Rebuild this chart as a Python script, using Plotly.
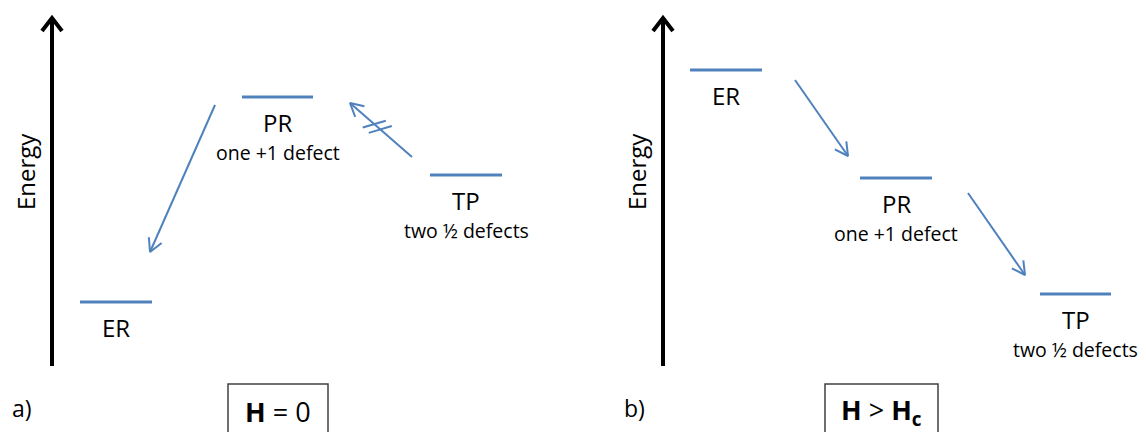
import numpy as np
import plotly.graph_objects as go

# ---- data (pixel-space diagram, y grows downward) ----
panels = ["a)", "b)"]
panel_axis_x = [52, 663]
panel_label_x = [22, 634]
field_labels = ["<b>H</b> = 0", "<b>H</b> &gt; <b>H<sub>c</sub></b>"]
field_box_x0 = [228, 825]
field_box_x1 = [328, 938]

# energy levels: state name, panel, x-start, x-end, level position
level_names = ["ER", "PR", "TP", "ER", "PR", "TP"]
level_desc = ["", "one +1 defect", "two ½ defects", "", "one +1 defect", "two ½ defects"]
level_x0 = [80, 242, 430, 690, 860, 1040]
level_x1 = [152, 313, 502, 762, 932, 1111]
level_y = [302, 97, 175, 70, 178, 294]

# transitions: start point -> end point (arrow tip), blocked flag
trans_x0 = [215, 412, 795, 968]
trans_y0 = [105, 157, 80, 193]
trans_x1 = [150, 350, 848, 1025]
trans_y1 = [252, 103, 156, 275]
trans_blocked = [False, True, False, False]

BLUE = "#4F81BD"
FONT = "Open Sans"

fig = go.Figure()

# energy level bars
for x0, x1, y in zip(level_x0, level_x1, level_y):
    fig.add_trace(go.Scatter(x=[x0, x1], y=[y, y], mode="lines",
                             line=dict(color=BLUE, width=3), hoverinfo="skip"))

# level labels
for name, desc, x0, x1, y in zip(level_names, level_desc, level_x0, level_x1, level_y):
    cx = (x0 + x1) / 2
    fig.add_annotation(x=cx, y=y + 25, text=name, showarrow=False,
                       font=dict(family=FONT, size=24, color="black"))
    if desc:
        fig.add_annotation(x=cx, y=y + 55, text=desc, showarrow=False,
                           font=dict(family=FONT, size=19.5, color="black"))

# transition arrows with open V heads
for x0, y0, x1, y1, blk in zip(trans_x0, trans_y0, trans_x1, trans_y1, trans_blocked):
    d = np.array([x1 - x0, y1 - y0], float)
    u = d / np.linalg.norm(d)
    n = np.array([-u[1], u[0]])
    hl, hw = 13, 7
    base = np.array([x1, y1]) - u * hl
    p1 = base + n * hw
    p2 = base - n * hw
    xs = [x0, x1, None, p1[0], x1, p2[0]]
    ys = [y0, y1, None, p1[1], y1, p2[1]]
    if blk:
        mid = np.array([x0, y0]) + d * 0.56
        for off in (-4, 4):
            c = mid + u * off
            t = np.array([1.0, -0.3])
            t = t / np.linalg.norm(t)
            a = c - t * 12
            b = c + t * 12
            xs += [None, a[0], b[0]]
            ys += [None, a[1], b[1]]
    fig.add_trace(go.Scatter(x=xs, y=ys, mode="lines",
                             line=dict(color=BLUE, width=2), hoverinfo="skip"))

# energy axes, panel labels, field boxes
for ax, lx, lab, ftxt, bx0, bx1 in zip(panel_axis_x, panel_label_x, panels,
                                       field_labels, field_box_x0, field_box_x1):
    fig.add_trace(go.Scatter(x=[ax, ax], y=[366, 20], mode="lines",
                             line=dict(color="black", width=4), hoverinfo="skip"))
    fig.add_trace(go.Scatter(x=[ax - 10, ax, ax + 10], y=[31, 18, 31], mode="lines",
                             line=dict(color="black", width=4), hoverinfo="skip"))
    fig.add_annotation(x=ax - 27, y=172, text="Energy", textangle=-90, showarrow=False,
                       font=dict(family=FONT, size=24, color="black"))
    fig.add_annotation(x=lx, y=408, text=lab, showarrow=False,
                       font=dict(family=FONT, size=23, color="black"))
    fig.add_shape(type="rect", x0=bx0, x1=bx1, y0=384, y1=445,
                  line=dict(color="#404040", width=1.5))
    fig.add_annotation(x=(bx0 + bx1) / 2, y=411, text=ftxt, showarrow=False,
                       font=dict(family=FONT, size=27, color="black"))

# page body has an 8px margin: size the figure so its pixels line up with the window
fig.update_layout(
    width=1138, height=424, margin=dict(l=0, r=0, t=0, b=0),
    paper_bgcolor="white", plot_bgcolor="white", showlegend=False,
    xaxis=dict(range=[8, 1146], visible=False, fixedrange=True),
    yaxis=dict(range=[432, 8], visible=False, fixedrange=True),
)
fig.write_html("out.html")
